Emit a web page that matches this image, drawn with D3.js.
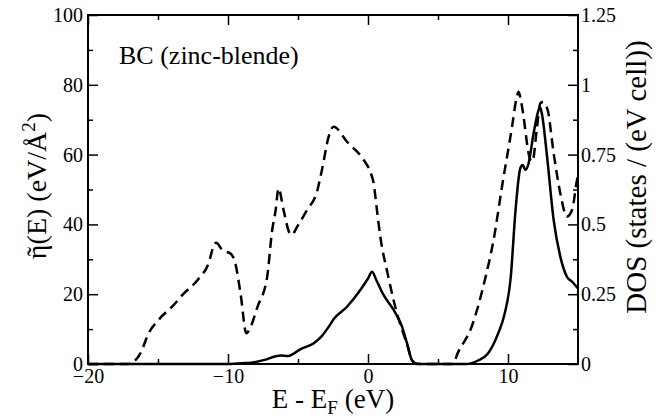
<!DOCTYPE html>
<html><head><meta charset="utf-8"><script src="https://cdn.jsdelivr.net/npm/d3@7"></script>
<style>
  svg text, svg tspan { font-family: "Liberation Serif" !important; }
</style>
</head>
<body style="margin:0">
<svg id="chart" width="662" height="417" font-family="Liberation Serif" style="font-family: 'Liberation Serif'"></svg>
<script>
// energy grid (eV) and eta~(E) for the solid curve (left axis, eV/A^2)
const etaE = [-20, -10, -9, -8, -7.46, -6.5, -6.26, -5.67, -5.3, -4.84, -3.9, -3.3, -2.8, -2.46, -1.5, -0.55, 0, 0.29, 0.6, 1.11,
  1.83, 2.43, 2.79, 3.14, 3.5, 4, 7, 7.86, 8.57, 9.29, 9.76, 10.2, 10.52, 10.88, 11.05, 11.24, 11.47, 11.83, 12.19, 12.3,
  12.43, 12.79, 13.26, 13.74, 14.21, 14.6, 15]
const etaVal = [0, 0, 0.2, 0.6, 1.1, 2.3, 2.4, 2.3, 3, 4.2, 5.9, 8, 10.7, 12.8, 16.4, 21.2, 24.5, 26.4, 24, 19.8,
  15.5, 10.7, 5.9, 1.1, 0.1, 0, 0, 1, 3, 8.7, 14.4, 25, 43.2, 56.1, 57, 55.6, 57.5, 66.1, 72.8, 73.5,
  71.5, 59.4, 41.3, 30.7, 25, 23.5, 21.6]

// DOS for the dashed curve (right axis, states / (eV cell))
const dosE = [-20, -17.2, -16.86, -16.26, -15.67, -14.96, -13.89, -13.2, -12.1, -11.4, -11.0, -10.85, -10.4, -9.8, -9.5, -9.1,
  -8.69, -8.4, -7.9, -7.2, -6.86, -6.6, -6.39, -6.03, -5.6, -5.43, -5.07, -4.36, -3.64, -3.29, -2.81, -2.46, -1.5, -0.31,
  0.16, 0.4, 0.64, 0.88, 1.4, 2.14, 2.5, 2.8, 3.14, 3.5, 6.07, 6.4, 7.4, 8.38, 8.97, 9.57, 10.29, 10.6, 10.76, 10.9,
  11.11, 11.47, 11.6, 11.75, 12.05, 12.31, 12.5, 12.83, 13.26, 13.74, 14.2, 14.57, 14.93, 15]
const dosVal = [0, 0, 0.004, 0.038, 0.11, 0.158, 0.211, 0.25, 0.305, 0.359, 0.425, 0.434, 0.408, 0.395, 0.365, 0.251,
  0.11, 0.131, 0.204, 0.313, 0.474, 0.55, 0.629, 0.551, 0.469, 0.463, 0.491, 0.551, 0.618, 0.695, 0.814, 0.85, 0.796, 0.731,
  0.689, 0.648, 0.551, 0.456, 0.324, 0.169, 0.113, 0.069, 0.014, 0, 0, 0.038, 0.133, 0.308, 0.444, 0.635, 0.85, 0.95, 0.975, 0.95,
  0.886, 0.755, 0.731, 0.725, 0.838, 0.934, 0.938, 0.91, 0.755, 0.611, 0.528, 0.551, 0.659, 0.675]

const xTicks = [-20, -10, 0, 10]
const xMinor = [-15, -5, 5]
const leftTicks = [0, 20, 40, 60, 80, 100]
const leftMinor = [10, 30, 50, 70, 90]
const rightTicks = [0, 0.25, 0.5, 0.75, 1, 1.25]
const rightMinor = [0.125, 0.375, 0.625, 0.875, 1.125]

const FONT = '"Liberation Serif"'

const W = 662, H = 417
const margin = { top: 15, left: 88, right: 84, bottom: 53 }
const width = W - margin.left - margin.right
const height = H - margin.top - margin.bottom

const svg = d3.select('#chart')
const g = svg.append('g').attr('transform', `translate(${margin.left},${margin.top})`)

const x = d3.scaleLinear().domain([-20, 15]).range([0, width])
const yL = d3.scaleLinear().domain([0, 100]).range([height, 0])
const yR = d3.scaleLinear().domain([0, 1.25]).range([height, 0])

const lineEta = d3.line().x(d => x(d[0])).y(d => yL(d[1])).curve(d3.curveMonotoneX)
const lineDos = d3.line().x(d => x(d[0])).y(d => yR(d[1])).curve(d3.curveMonotoneX)

g.append('path')
  .datum(d3.zip(dosE, dosVal))
  .attr('d', lineDos)
  .attr('fill', 'none').attr('stroke', '#000').attr('stroke-width', 2.5)
  .attr('stroke-dasharray', '10,6')

g.append('path')
  .datum(d3.zip(etaE, etaVal))
  .attr('d', lineEta)
  .attr('fill', 'none').attr('stroke', '#000').attr('stroke-width', 2.5)

// axes, ticks pointing inward
const styleAxis = (sel) => {
  sel.attr('font-family', 'Liberation Serif').attr('font-size', 20)
  sel.select('.domain').remove()
  sel.selectAll('.tick line').attr('stroke', '#000').attr('stroke-width', 1.5)
  sel.selectAll('.tick text').attr('fill', '#000')
    .style('font-family', FONT).style('font-size', '20px')
}

g.append('g').attr('transform', `translate(0,${height})`)
  .call(d3.axisBottom(x).tickValues(xTicks).tickSizeInner(-10).tickSizeOuter(0).tickPadding(5))
  .call(styleAxis)
g.append('g').attr('transform', `translate(0,${height})`)
  .call(d3.axisBottom(x).tickValues(xMinor).tickSizeInner(-5).tickSizeOuter(0).tickFormat(''))
  .call(styleAxis)
g.append('g')
  .call(d3.axisTop(x).tickValues(xTicks).tickSizeInner(-10).tickSizeOuter(0).tickFormat(''))
  .call(styleAxis)
g.append('g')
  .call(d3.axisTop(x).tickValues(xMinor).tickSizeInner(-5).tickSizeOuter(0).tickFormat(''))
  .call(styleAxis)

g.append('g')
  .call(d3.axisLeft(yL).tickValues(leftTicks).tickSizeInner(-10).tickSizeOuter(0).tickPadding(5))
  .call(styleAxis)
g.append('g')
  .call(d3.axisLeft(yL).tickValues(leftMinor).tickSizeInner(-5).tickSizeOuter(0).tickFormat(''))
  .call(styleAxis)

g.append('g').attr('transform', `translate(${width},0)`)
  .call(d3.axisRight(yR).tickValues(rightTicks).tickSizeInner(-10).tickSizeOuter(0).tickPadding(3)
    .tickFormat(d => String(d)))
  .call(styleAxis)
g.append('g').attr('transform', `translate(${width},0)`)
  .call(d3.axisRight(yR).tickValues(rightMinor).tickSizeInner(-5).tickSizeOuter(0).tickFormat(''))
  .call(styleAxis)

// frame
g.append('rect').attr('width', width).attr('height', height)
  .attr('fill', 'none').attr('stroke', '#000').attr('stroke-width', 2)

// panel label
svg.append('text').attr('x', margin.left + 31).attr('y', margin.top + 49)
  .style('font-family', FONT).style('font-size', '26px').text('BC (zinc-blende)')

// x title
const xt = svg.append('text').attr('x', margin.left + width / 2).attr('y', 408)
  .attr('text-anchor', 'middle').style('font-family', FONT).style('font-size', '27px')
xt.append('tspan').text('E - E')
xt.append('tspan').attr('dy', 6).style('font-size', '19px').text('F')
xt.append('tspan').attr('dy', -6).text(' (eV)')

// left title, tilde placed over the eta by hand
const yt = svg.append('text').attr('transform', 'translate(46,186) rotate(-90)')
  .attr('text-anchor', 'middle').style('font-family', FONT).style('font-size', '28px')
yt.append('tspan').text('\u03b7')
yt.append('tspan').attr('dx', '-0.42em').text('\u02dc')
yt.append('tspan').attr('dx', '0.09em').text('(E) (eV/\u00c5')
yt.append('tspan').attr('dy', -11).style('font-size', '19px').text('2')
yt.append('tspan').attr('dy', 11).text(')')

// right title
svg.append('text').attr('transform', 'translate(646,177) rotate(-90)')
  .attr('text-anchor', 'middle').style('font-family', FONT).style('font-size', '29px')
  .text('DOS (states / (eV cell))')
</script>
</body>
</html>
